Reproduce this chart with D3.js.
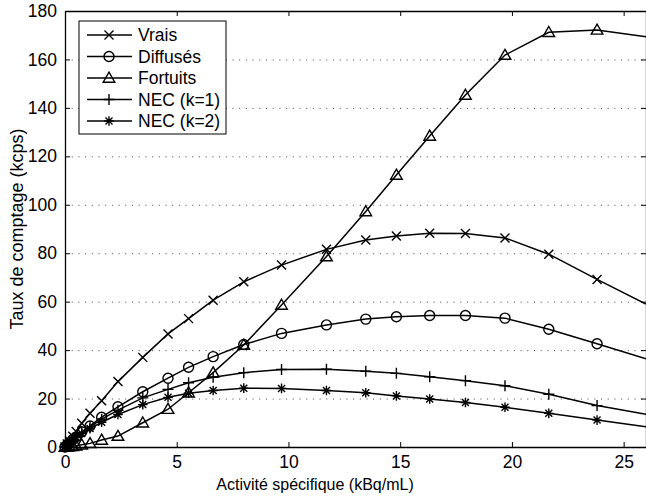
<!DOCTYPE html>
<html>
<head lang="fr">
    <meta charset="UTF-8">
    <title>Taux de comptage</title>
    <script src="https://cdn.jsdelivr.net/npm/d3@7"></script>
    <style>
        body{margin:0;background:#fff;}
        text{font-family:"Liberation Sans",Arial,sans-serif;fill:#000;}
    </style>
</head>
<body>
<div id="chart"></div>
<script>
    // activité (kBq/mL)
    var activite=[0,0.1,0.2,0.35,0.5,0.75,1.12,1.64,2.37,3.48,4.61,5.53,6.63,8.0,9.69,11.70,13.46,14.83,16.32,17.92,19.69,21.65,23.81,26.0];
    var vrais   =[0,1.2,2.5,4.4,6.4,9.8,13.9,19.1,27.0,37.0,46.7,53.0,60.6,68.2,75.1,81.6,85.5,87.1,88.2,88.1,86.3,79.6,69.2,59.0];
    var diffuses=[0,0.9,1.8,3.1,4.2,6.3,8.7,12.3,16.6,22.8,28.4,32.9,37.3,42.3,46.9,50.4,52.8,53.8,54.3,54.3,53.2,48.6,42.6,36.4];
    var fortuits=[0,0.05,0.15,0.3,0.5,0.9,1.5,2.9,4.5,10.0,15.6,22.4,30.7,42.1,58.6,78.6,97.2,112.3,128.4,145.3,161.8,171.2,172.2,169.4];
    var nec1    =[0,0.9,1.8,3.0,4.1,6.0,8.3,11.5,15.2,20.3,23.8,26.5,28.8,30.7,32.0,32.1,31.3,30.4,29.0,27.4,25.3,21.8,17.1,13.5];
    var nec2    =[0,0.9,1.7,2.9,3.9,5.6,7.6,10.2,13.4,17.5,20.5,22.2,23.3,24.3,24.2,23.3,22.4,21.1,19.8,18.4,16.4,13.9,11.1,8.4];
    var noms=['Vrais','Diffusés','Fortuits','NEC (k=1)','NEC (k=2)'];
    var symboles=['x','o','tri','plus','star'];
    var xTicks=[0,5,10,15,20,25];
    var yTicks=[0,20,40,60,80,100,120,140,160,180];

    var series=[vrais,diffuses,fortuits,nec1,nec2];
    var W=646,H=496;
    var mLeft=65,mRight=646,mTop=11,mBottom=447;

    var svg=d3.select('#chart').append('svg')
            .attr('width',W).attr('height',H);
    var x=d3.scaleLinear().domain([0,26]).range([mLeft,mRight]);
    var y=d3.scaleLinear().domain([0,180]).range([mBottom,mTop]);

    svg.append('clipPath').attr('id','clip')
            .append('rect').attr('x',mLeft).attr('y',mTop)
            .attr('width',mRight-mLeft).attr('height',mBottom-mTop);

    // grille horizontale pointillée
    svg.append('g').selectAll('line')
            .data(yTicks.slice(1,-1))
            .enter().append('line')
            .attr('x1',mLeft).attr('x2',mRight)
            .attr('y1',function(d){return y(d)+0.5})
            .attr('y2',function(d){return y(d)+0.5})
            .attr('stroke','#444').attr('stroke-width',1)
            .attr('stroke-dasharray','1,5.7');

    // axes
    var gx=svg.append('g').attr('transform','translate(0,'+mBottom+')')
            .call(d3.axisBottom(x).tickValues(xTicks).tickSizeInner(-5).tickSizeOuter(0).tickPadding(9));
    var gxt=svg.append('g').attr('transform','translate(0,'+mTop+')')
            .call(d3.axisTop(x).tickValues(xTicks).tickSizeInner(-5).tickSizeOuter(0).tickFormat(''));
    var gy=svg.append('g').attr('transform','translate('+mLeft+',0)')
            .call(d3.axisLeft(y).tickValues(yTicks).tickSizeInner(-5).tickSizeOuter(0).tickPadding(8));
    var gyr=svg.append('g').attr('transform','translate('+mRight+',0)')
            .call(d3.axisRight(y).tickValues(yTicks).tickSizeInner(-5).tickSizeOuter(0).tickFormat(''));
    [gx,gxt,gy,gyr].forEach(function(g){
        g.select('.domain').attr('stroke','#000').attr('stroke-width',1.3);
        g.selectAll('.tick line').attr('stroke','#000');
        g.selectAll('.tick text').attr('font-size',null).style('font-size','17.5px')
                .attr('font-family',null);
    });

    // courbes
    var line=d3.line()
            .x(function(d,i){return x(activite[i])})
            .y(function(d){return y(d)});
    var gc=svg.append('g').attr('clip-path','url(#clip)');
    series.forEach(function(s,k){
        gc.append('path').datum(s)
                .attr('d',line)
                .attr('fill','none').attr('stroke','#000').attr('stroke-width',1.5);
    });

    function marker(g,type){
        var p;
        if(type==='x'){
            p='M-4.5,-4.5L4.5,4.5M-4.5,4.5L4.5,-4.5';
        }else if(type==='o'){
            g.append('circle').attr('r',5).attr('fill','none').attr('stroke','#000').attr('stroke-width',1.4);
            return;
        }else if(type==='tri'){
            p='M0,-5.8L5.8,4.2L-5.8,4.2Z';
        }else if(type==='plus'){
            p='M-5.5,0L5.5,0M0,-5.5L0,5.5';
        }else{
            p='M-4.8,0L4.8,0M0,-4.8L0,4.8M-3.5,-3.5L3.5,3.5M-3.5,3.5L3.5,-3.5';
        }
        g.append('path').attr('d',p).attr('fill','none').attr('stroke','#000').attr('stroke-width',1.4);
    }

    series.forEach(function(s,k){
        var gm=svg.append('g').selectAll('g')
                .data(s.filter(function(d,i){return activite[i]<25.9}))
                .enter().append('g')
                .attr('transform',function(d,i){return 'translate('+x(activite[i])+','+y(d)+')'});
        gm.each(function(){marker(d3.select(this),symboles[k])});
    });

    // titres des axes
    svg.append('text').attr('x',315).attr('y',490)
            .attr('text-anchor','middle').style('font-size','16px')
            .text('Activité spécifique (kBq/mL)');
    svg.append('text').attr('transform','translate(23,'+((mTop+mBottom)/2)+') rotate(-90)')
            .attr('text-anchor','middle').style('font-size','18px')
            .text('Taux de comptage (kcps)');

    // légende
    var lg=svg.append('g').attr('transform','translate(79,21)');
    lg.append('rect').attr('width',147).attr('height',113)
            .attr('fill','#fff').attr('stroke','#000').attr('stroke-width',1);
    noms.forEach(function(n,k){
        var yy=14+k*21.5;
        lg.append('line').attr('x1',8).attr('x2',53).attr('y1',yy).attr('y2',yy)
                .attr('stroke','#000').attr('stroke-width',1.5);
        var gm=lg.append('g').attr('transform','translate(30,'+yy+')');
        marker(gm,symboles[k]);
        lg.append('text').attr('x',59).attr('y',yy).attr('dy','0.36em')
                .style('font-size','17.5px').text(n);
    });
</script>
</body>
</html>
